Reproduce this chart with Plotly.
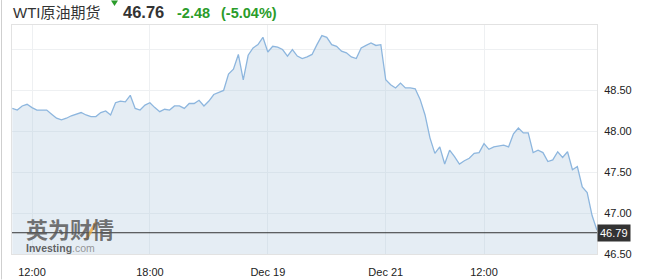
import plotly.graph_objects as go

# ---- data ----
prices = [
    48.28, 48.26, 48.31, 48.33, 48.29, 48.26, 48.26, 48.26, 48.21, 48.16,
    48.14, 48.16, 48.19, 48.21, 48.23, 48.20, 48.18, 48.18, 48.23, 48.25,
    48.20, 48.35, 48.37, 48.36, 48.44, 48.28, 48.26, 48.32, 48.35, 48.29,
    48.24, 48.27, 48.26, 48.31, 48.31, 48.28, 48.34, 48.34, 48.38, 48.31,
    48.37, 48.45, 48.48, 48.50, 48.70, 48.76, 48.94, 48.63, 48.93, 49.02,
    49.06, 49.15, 48.97, 49.04, 49.03, 49.00, 48.92, 49.00, 48.92, 48.89,
    48.91, 48.94, 49.06, 49.17, 49.15,
    49.06, 49.04, 48.98, 48.96, 48.91, 48.89, 49.02, 49.05, 49.08, 49.05,
    49.06, 48.63, 48.57, 48.53, 48.59, 48.53, 48.53, 48.52, 48.39, 48.20,
    47.92, 47.73, 47.81, 47.60, 47.77, 47.69, 47.60, 47.64, 47.67, 47.73,
    47.74, 47.85, 47.78, 47.81, 47.82, 47.83, 47.81, 47.97, 48.04, 47.98,
    47.98, 47.74, 47.77, 47.74, 47.63, 47.65, 47.75, 47.68, 47.75, 47.53,
    47.57, 47.32, 47.25, 46.97, 46.79,
]
x_index = list(range(len(prices)))
x_tick_pos = [4, 28, 52, 76, 96]
x_tick_labels = ["12:00", "18:00", "Dec 19", "Dec 21", "12:00"]
y_tick_vals = [46.5, 47.0, 47.5, 48.0, 48.5, 49.0]
y_tick_labels = ["46.50", "47.00", "47.50", "48.00", "48.50", ""]
last_price_label = "46.79"
current_price = 46.76
title_name = "WTI原油期货"
title_price = "46.76"
title_change = "-2.48"
title_pct = "(-5.04%)"

# ---- layout helpers (pixel -> paper) ----
W, H = 649, 280
ML, MR, MT, MB = 12, 52, 25, 25.5
PW = W - ML - MR
PH = H - MT - MB


def px(xp):
    return (xp - ML) / PW


def py(yp):
    return (H - MB - yp) / PH


FONT = "Arial, 'Liberation Sans', 'Noto Sans CJK SC', sans-serif"
GREEN = "#2a9c2a"

fig = go.Figure()
fig.add_trace(go.Scatter(
    x=x_index, y=prices, mode="lines",
    line=dict(color="#8db6de", width=1.3),
    fill="tozeroy", fillcolor="rgba(175,200,222,0.33)",
    hoverinfo="skip", showlegend=False,
))

fig.update_layout(
    width=W, height=H,
    margin=dict(l=ML, r=MR, t=MT, b=MB, pad=0, autoexpand=False),
    paper_bgcolor="white", plot_bgcolor="white",
    font=dict(family=FONT, size=11, color="#222"),
    xaxis=dict(
        range=[-0.07, len(prices) - 1], tickmode="array",
        tickvals=x_tick_pos, ticktext=x_tick_labels, automargin=False,
        showgrid=True, gridcolor="#eef0f2", gridwidth=1,
        zeroline=False, showline=True, mirror=True, linecolor="#e2e2e2",
        ticks="outside", ticklen=8, tickcolor="rgba(0,0,0,0)",
        tickfont=dict(size=11, color="#222"),
    ),
    yaxis=dict(
        range=[46.5, 49.3], side="right", tickmode="array",
        tickvals=y_tick_vals, ticktext=y_tick_labels, automargin=False,
        showgrid=True, gridcolor="#eef0f2", gridwidth=1,
        zeroline=False, showline=True, mirror=True, linecolor="#e2e2e2",
        ticks="outside", ticklen=4, tickcolor="rgba(0,0,0,0)",
        tickfont=dict(size=11, color="#222"),
    ),
)

# current price line and label
fig.add_shape(type="line", xref="paper", yref="y", x0=0, x1=1,
              y0=current_price, y1=current_price, line=dict(color="#333", width=1))
fig.add_annotation(xref="paper", yref="y", x=1, y=current_price,
                   xanchor="left", yanchor="middle", showarrow=False,
                   text=last_price_label, bgcolor="#333333",
                   font=dict(color="white", size=11), borderpad=2)

# left page border
fig.add_shape(type="line", xref="paper", yref="paper",
              x0=px(1.5), x1=px(1.5), y0=py(0), y1=py(280),
              line=dict(color="#cfcfcf", width=1))

# header
fig.add_annotation(xref="paper", yref="paper", x=px(11), y=py(12),
                   xanchor="left", yanchor="middle", showarrow=False,
                   text=title_name, font=dict(size=15, color="#333"))
fig.add_shape(type="path", xref="paper", yref="paper",
              path=f"M {px(111)} {py(0.5)} L {px(118)} {py(0.5)} L {px(114.5)} {py(6)} Z",
              fillcolor=GREEN, line=dict(width=0))
fig.add_annotation(xref="paper", yref="paper", x=px(121), y=py(12),
                   xanchor="left", yanchor="middle", showarrow=False,
                   text=f"<b>{title_price}</b>", font=dict(size=16.5, color="#333"))
fig.add_annotation(xref="paper", yref="paper", x=px(174.5), y=py(12.5),
                   xanchor="left", yanchor="middle", showarrow=False,
                   text=f"<b>{title_change}</b>", font=dict(size=14.5, color=GREEN))
fig.add_annotation(xref="paper", yref="paper", x=px(219), y=py(12.5),
                   xanchor="left", yanchor="middle", showarrow=False,
                   text=f"<b>{title_pct}</b>", font=dict(size=14.5, color=GREEN))

# watermark (single text block)
fig.add_shape(type="line", xref="paper", yref="paper",
              x0=px(86), y0=py(240), x1=px(96), y1=py(223),
              line=dict(color="rgba(240,170,60,0.8)", width=3))
fig.add_annotation(xref="paper", yref="paper", x=px(25), y=py(236.5),
                   xanchor="left", yanchor="middle", showarrow=False, align="left",
                   borderpad=0,
                   text=("<b><span style='font-size:22px;color:rgba(85,85,85,0.9)'>英为财情</span></b><br>"
                         "<b>Investing</b><span style='color:#8a8a8a'>.com</span>"),
                   font=dict(size=10.5, color="rgba(80,80,80,0.9)"))

fig.write_html("out.html")
